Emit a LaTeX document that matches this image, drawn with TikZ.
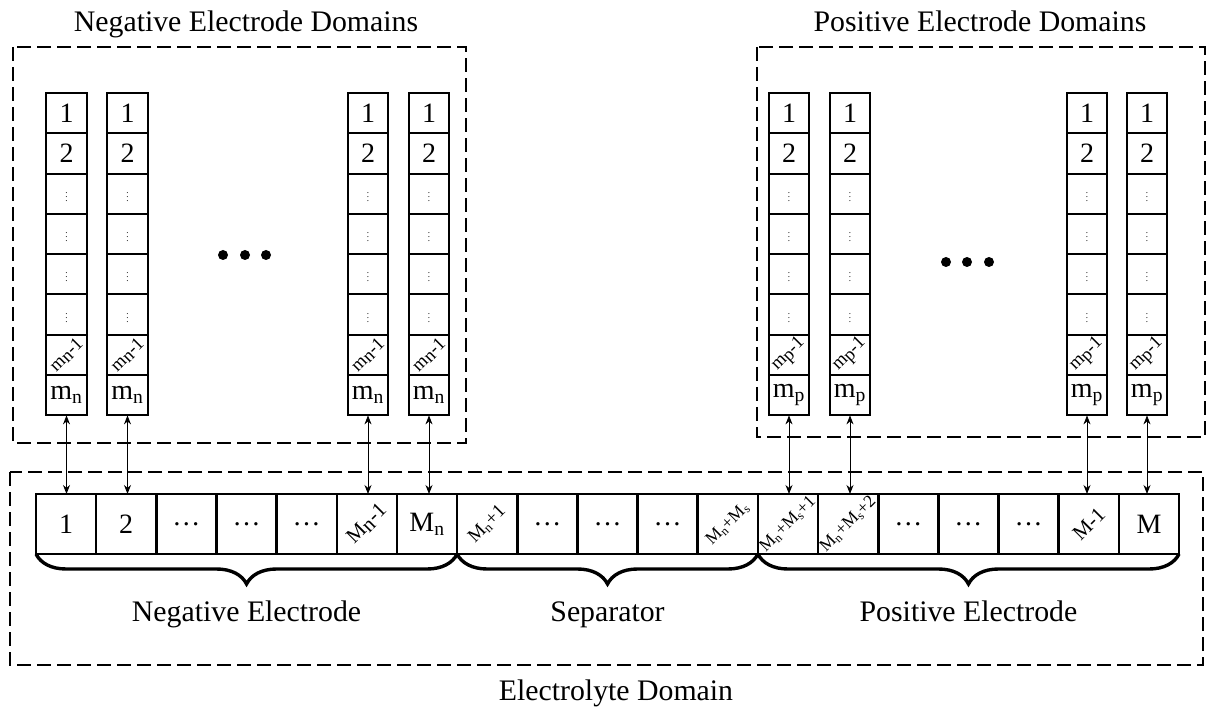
\documentclass[tikz,border=0pt]{standalone}
\usepackage{fontspec}
\usepackage{graphicx}
\setmainfont{Liberation Serif}
\usetikzlibrary{arrows.meta,decorations.pathreplacing,calc}
\newcommand\colvdots{{\fontsize{9}{9}\selectfont$\vdots$}}
% diagonal label that takes no room in its box
\newcommand\tilted[2][17.5]{\makebox[0pt][c]{\raisebox{\dimexpr(\depth-\height)/2\relax}[0pt][0pt]{%
  \rotatebox[origin=c]{45}{\fontsize{#1}{#1}\selectfont #2}}}}
\newcommand\lowsub[1]{\raisebox{-0.25ex}{#1}}
\begin{document}
\begin{tikzpicture}[x=1pt,y=-1pt,
  cellbox/.style={draw,line width=2.6pt,minimum width=60.16pt,minimum height=60pt,
    inner sep=0pt,outer sep=0pt,font=\fontsize{28}{30}\selectfont},
  rowbox/.style={draw,line width=2pt,minimum width=40.5pt,minimum height=40.3pt,
    inner sep=0pt,outer sep=0pt,font=\fontsize{28}{30}\selectfont},
  framebox/.style={draw,dash pattern=on 14pt off 6pt,line width=1.8pt},
  link/.style={{Stealth[length=9pt,width=7pt]}-{Stealth[length=9pt,width=7pt]},line width=0.9pt},
  heading/.style={font=\fontsize{29.8}{32}\selectfont,inner sep=0pt,anchor=base},
  curly/.style={decorate,decoration={brace,mirror,amplitude=30pt},line width=3.4pt}
]
\useasboundingbox (0,0) rectangle (1211,711);

% domain frames
\draw[framebox] (13,47) rectangle (466,443);
\draw[framebox] (757,47) rectangle (1205,437);
\draw[framebox] (10,472) rectangle (1203,665);
\node[heading] (negtitle) at (246,32) {Negative Electrode Domains};
\node[heading] (postitle) at (980,32) {Positive Electrode Domains};
\node[heading] (eltitle) at (616,700) {Electrolyte Domain};

% particle columns
\foreach \c/\x/\s in {n1/66.5/n,n2/127.5/n,n3/368/n,n4/429/n,p1/789/p,p2/850/p,p3/1087/p,p4/1147/p} {
  \node[rowbox] (\c r1) at (\x,113.15) {1};
  \node[rowbox] (\c r2) at (\x,153.45) {2};
  \node[rowbox] (\c r3) at (\x,193.75) {\colvdots};
  \node[rowbox] (\c r4) at (\x,234.05) {\colvdots};
  \node[rowbox] (\c r5) at (\x,274.35) {\colvdots};
  \node[rowbox] (\c r6) at (\x,314.65) {\colvdots};
  \node[rowbox] (\c r7) at (\x,354.95) {\tilted[18.5]{m\lowsub{\s}-1}};
  \node[rowbox] (\c r8) at (\x,395.25) {m\textsubscript{\s}};
}

% ellipsis between columns
\foreach \x/\y in {223/255,245/255,266/255,946/262,967/262,989/262}
  \fill (\x,\y) circle (5pt);

% electrolyte cells
\foreach \i/\t in {1/1,2/2,3/\ldots,4/\ldots,5/\ldots,
  6/\tilted[21]{M\lowsub{n}-1},7/M\textsubscript{n},
  8/\tilted[19]{M\textsubscript{n}+1},9/\ldots,10/\ldots,11/\ldots,
  12/\tilted{M\textsubscript{n}+M\textsubscript{s}},
  13/\tilted{M\textsubscript{n}+M\textsubscript{s}+1},
  14/\tilted{M\textsubscript{n}+M\textsubscript{s}+2},
  15/\ldots,16/\ldots,17/\ldots,18/\tilted[21]{M-1},19/M}
  \node[cellbox] (e\i) at ({36+60.16*(\i-0.5)},524) {\t};

% exchange between particles and electrolyte
\foreach \c/\e in {n1/1,n2/2,n3/6,n4/7,p1/13,p2/14,p3/18,p4/19}
  \draw[link] (\c r8.south) -- (\c r8.south |- e\e.north);

% region braces
\draw[curly] (e1.south west) -- (e7.south east);
\draw[curly] (e8.south west) -- (e12.south east);
\draw[curly] (e13.south west) -- (e19.south east);
\node[heading] (negreg) at ($(e1.south west)!0.5!(e7.south east)+(0,67)$) {Negative Electrode};
\node[heading] (sepreg) at ($(e8.south west)!0.5!(e12.south east)+(0,67)$) {Separator};
\node[heading] (posreg) at ($(e13.south west)!0.5!(e19.south east)+(0,67)$) {Positive Electrode};
\end{tikzpicture}
\end{document}
